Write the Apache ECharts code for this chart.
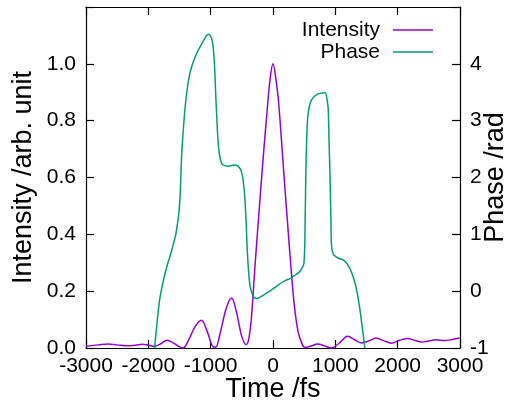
<!DOCTYPE html>
<html>
<head>
<meta charset="utf-8">
<script src="https://cdn.jsdelivr.net/npm/echarts@6/dist/echarts.min.js"></script>
<style>html,body{margin:0;padding:0;background:#fff;}#chart{width:512px;height:403px;}</style>
</head>
<body>
<div id="chart"></div>
<script>
// Time axis ticks (fs)
var timeTicks = [-3000, -2000, -1000, 0, 1000, 2000, 3000];
var intensityTicks = [0.0, 0.2, 0.4, 0.6, 0.8, 1.0];
var phaseTicks = [-1, 0, 1, 2, 3, 4];

// Intensity trace
var intensityTime = [-3000,-2800,-2650,-2500,-2350,-2200,-2100,-2000,-1900,-1800,-1700,-1600,-1500,-1440,
  -1350,-1250,-1150,-1050,-960,-920,-850,-750,-665,-580,-500,-430,-390,-345,-290,-210,-150,-100,-50,0,
  45,90,165,245,335,400,460,510,600,720,820,940,1050,1200,1300,1420,1540,1650,1780,1900,2030,2160,2270,
  2380,2500,2620,2750,2880,3000];
var intensityValues = [0.006,0.011,0.014,0.011,0.008,0.010,0.013,0.010,0.006,0.015,0.027,0.018,0.004,0.000,
  0.030,0.075,0.098,0.055,0.004,0.003,0.050,0.140,0.176,0.120,0.040,0.012,0.030,0.110,0.285,0.520,0.690,0.820,0.940,1.000,
  0.950,0.865,0.641,0.406,0.165,0.060,0.018,0.002,0.006,0.014,0.008,0.000,0.015,0.041,0.030,0.018,0.025,0.035,0.025,0.017,0.027,0.033,0.027,
  0.021,0.025,0.029,0.026,0.030,0.035];

// Phase trace
var phaseTime = [-1900,-1850,-1810,-1730,-1623,-1554,-1500,-1463,-1426,-1383,-1330,-1250,-1143,-1036,-982,-945,-913,-876,
  -840,-800,-716,-620,-560,-502,-460,-430,-411,-368,-315,-261,-200,-100,0,100,200,272,350,432,497,515,529,548,566,600,646,700,753,833,
  870,886,900,913,930,940,965,993,1050,1127,1180,1233,1290,1340,1394,1430,1474];
var phaseValues = [-1.0,-0.45,-0.09,0.32,0.73,1.03,1.50,2.44,3.03,3.50,3.85,4.12,4.35,4.52,4.44,4.09,3.32,2.56,
  2.30,2.22,2.20,2.22,2.20,2.09,1.75,1.20,0.68,0.09,-0.09,-0.13,-0.10,-0.03,0.04,0.12,0.19,0.22,0.28,0.35,0.50,1.20,2.20,2.90,3.15,3.32,3.41,3.46,3.48,3.49,
  3.35,3.20,2.60,2.10,1.20,0.79,0.66,0.62,0.58,0.55,0.49,0.40,0.24,0.03,-0.32,-0.62,-1.0];

function pairs(xs, ys){ return xs.map(function(x,i){ return [x, ys[i]]; }); }

var FONT = 'Liberation Sans';
var chart = echarts.init(document.getElementById('chart'), null, {renderer:'canvas'});
chart.setOption({
  animation:false,
  textStyle:{fontFamily:FONT},
  grid:{left:86, right:52, top:7, bottom:55, containLabel:false, outerBoundsMode:'none'},
  legend:{
    orient:'vertical', right:79, top:19, align:'right', padding:0, itemGap:0,
    itemWidth:40, itemHeight:1.6, icon:'rect',
    textStyle:{fontFamily:FONT, fontSize:21, color:'#000', lineHeight:22, padding:[0,8,0,0]},
    data:['Intensity','Phase']
  },
  xAxis:[{
    type:'value', min:-3000, max:3000, interval:1000, position:'bottom',
    name:'Time /fs', nameLocation:'middle', nameGap:28, nameMoveOverlap:false,
    nameTextStyle:{fontFamily:FONT, fontSize:27, color:'#000'},
    axisLine:{show:true, onZero:false, lineStyle:{color:'#000', width:1.2}},
    axisTick:{show:true, inside:true, length:8, lineStyle:{color:'#000', width:1.2}},
    axisLabel:{fontFamily:FONT, fontSize:21, color:'#000', margin:8, showMinLabel:true, showMaxLabel:true, hideOverlap:false,
      formatter:function(v){ return String(v); }},
    splitLine:{show:false}
  },{
    type:'value', min:-3000, max:3000, interval:1000, position:'top',
    axisLine:{show:true, onZero:false, lineStyle:{color:'#000', width:1.2}},
    axisTick:{show:true, inside:true, length:8, lineStyle:{color:'#000', width:1.2}},
    axisLabel:{show:false}, splitLine:{show:false}
  }],
  yAxis:[{
    type:'value', min:0, max:1.2, interval:0.2, position:'left',
    name:'Intensity /arb. unit', nameLocation:'middle', nameGap:49, nameRotate:90, nameMoveOverlap:false,
    nameTextStyle:{fontFamily:FONT, fontSize:27, color:'#000'},
    axisLine:{show:true, onZero:false, lineStyle:{color:'#000', width:1.2}},
    axisTick:{show:true, inside:true, length:8, lineStyle:{color:'#000', width:1.2}},
    axisLabel:{fontFamily:FONT, fontSize:21, color:'#000', margin:10, showMinLabel:true,
      formatter:function(v){ return v > 1.1 ? '' : v.toFixed(1); }},
    splitLine:{show:false}
  },{
    type:'value', min:-1, max:5, interval:1, position:'right',
    name:'Phase /rad', nameLocation:'middle', nameGap:22, nameRotate:90, nameMoveOverlap:false,
    nameTextStyle:{fontFamily:FONT, fontSize:27, color:'#000'},
    axisLine:{show:true, onZero:false, lineStyle:{color:'#000', width:1.2}},
    axisTick:{show:true, inside:true, length:8, lineStyle:{color:'#000', width:1.2}},
    axisLabel:{fontFamily:FONT, fontSize:21, color:'#000', margin:10, showMinLabel:true,
      formatter:function(v){ return v > 4.5 ? '' : String(v); }},
    splitLine:{show:false}
  }],
  series:[{
    name:'Intensity', type:'line', xAxisIndex:0, yAxisIndex:0, symbol:'none', smooth:0.35,
    lineStyle:{color:'#9400d3', width:1.5}, itemStyle:{color:'#9400d3'},
    data:pairs(intensityTime, intensityValues)
  },{
    name:'Phase', type:'line', xAxisIndex:0, yAxisIndex:1, symbol:'none', smooth:0.35,
    lineStyle:{color:'#009e73', width:1.5}, itemStyle:{color:'#009e73'},
    data:pairs(phaseTime, phaseValues)
  }]
});
</script>
</body>
</html>
